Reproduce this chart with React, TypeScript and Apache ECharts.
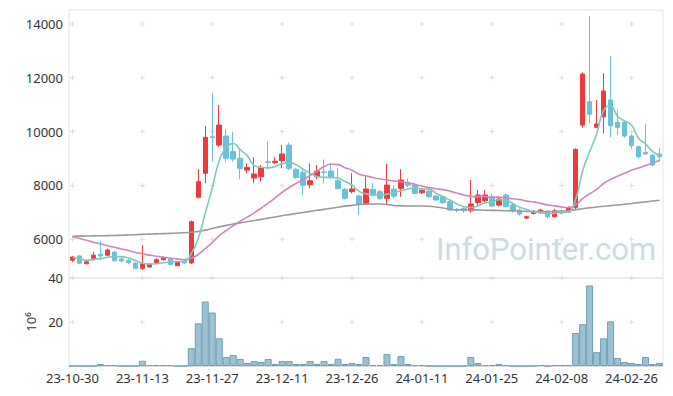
import React, { useEffect, useRef } from 'react';
import * as echarts from 'echarts';

const dates = [
  '23-10-30', '23-10-31', '23-11-01', '23-11-02', '23-11-03',
  '23-11-06', '23-11-07', '23-11-08', '23-11-09', '23-11-10',
  '23-11-13', '23-11-14', '23-11-15', '23-11-16', '23-11-17',
  '23-11-20', '23-11-21', '23-11-22', '23-11-23', '23-11-24',
  '23-11-27', '23-11-28', '23-11-29', '23-11-30', '23-12-01',
  '23-12-04', '23-12-05', '23-12-06', '23-12-07', '23-12-08',
  '23-12-11', '23-12-12', '23-12-13', '23-12-14', '23-12-15',
  '23-12-18', '23-12-19', '23-12-20', '23-12-21', '23-12-22',
  '23-12-26', '23-12-27', '23-12-28',
  '24-01-02', '24-01-03', '24-01-04', '24-01-05',
  '24-01-08', '24-01-09', '24-01-10', '24-01-11', '24-01-12',
  '24-01-15', '24-01-16', '24-01-17', '24-01-18', '24-01-19',
  '24-01-22', '24-01-23', '24-01-24', '24-01-25', '24-01-26',
  '24-01-29', '24-01-30', '24-01-31', '24-02-01', '24-02-02',
  '24-02-05', '24-02-06', '24-02-07', '24-02-08',
  '24-02-13', '24-02-14', '24-02-15', '24-02-16',
  '24-02-19', '24-02-20', '24-02-21', '24-02-22', '24-02-23',
  '24-02-26', '24-02-27', '24-02-28', '24-02-29',
  '24-03-04',
];

const opens = [5220,5380,5090,5290,5440,5410,5520,5265,5215,5115,4920,4970,5130,5240,5265,5015,5190,5120,7560,8450,9810,9500,9835,9255,9010,8570,8275,8325,8880,8850,8920,9500,8600,8475,8025,8325,8500,8535,8175,7855,7770,7605,7335,7855,7770,7520,7860,7890,8080,8015,7730,7790,7605,7580,7395,7110,7135,7060,7360,7430,7580,7270,7645,7270,7085,6790,6960,7010,7025,6840,7020,7010,7185,10245,11110,10160,10555,11175,10345,10345,9835,9440,9230,9120,9170];
const closes = [5340,5110,5165,5410,5380,5600,5200,5190,5140,4920,5090,5070,5240,5315,5070,5165,5120,6650,8140,9790,9780,10245,9010,8980,8635,8670,8425,8670,8860,8900,9170,8635,8300,8005,8175,8535,8480,8300,7890,7520,7870,7310,7870,7645,7520,8015,7600,8200,8010,7705,7820,7580,7460,7355,7085,7080,7060,7310,7645,7645,7235,7495,7210,7060,6935,6840,7035,7085,6840,7060,6970,7170,9340,12140,10645,10285,11510,10220,10160,9835,9475,9070,9170,8760,9070];
const lows = [5150,5080,5070,5200,5230,5380,5170,5150,5080,4880,4860,4950,5090,5200,5030,5000,5090,5080,7520,8080,8880,9440,8880,8880,8230,8450,8080,8140,8600,8800,8635,8570,8250,7650,7890,8230,8080,8230,7850,7480,7700,6900,7310,7600,7450,7270,7520,7580,7930,7680,7680,7540,7420,7320,7050,7000,6990,6990,7235,7380,7200,7220,7180,6990,6880,6760,6920,6940,6760,6810,6920,6990,7080,10150,10310,10125,9935,9790,9875,9770,9360,8990,9150,8720,8880];
const highs = [5380,5420,5190,5540,5950,5650,5560,5320,5260,5140,5780,5100,5290,5360,5300,5180,5230,6700,8600,10210,11430,10990,10085,10000,9380,8820,9045,8760,9625,9050,9500,9590,8640,8570,8820,8760,8970,8845,8650,7900,8450,7650,8385,8100,7830,8795,8000,8600,8265,8100,7900,7830,7650,7620,7430,7160,7200,8200,7830,7830,7700,7580,7700,7310,7140,6880,7090,7130,7090,7130,7100,7230,9380,12200,14300,11175,12170,12810,10800,10420,9910,9480,10270,9170,9380];

const ma5 = [5330,5280,5220,5250,5281,5333,5351,5356,5302,5210,5108,5082,5092,5127,5157,5172,5182,5464,6029,6973,7896,8921,9393,9561,9330,9108,8744,8676,8652,8705,8805,8847,8773,8602,8457,8330,8299,8299,8276,8145,8012,7778,7692,7643,7643,7672,7730,7796,7869,7906,7867,7863,7715,7584,7460,7312,7208,7178,7236,7348,7379,7466,7446,7329,7187,7108,7016,6991,6947,6972,6998,7025,7476,8536,9253,9916,10784,10960,10564,10402,10240,9752,9542,9262,9109];
const ma20 = [6095,6030,5960,5890,5830,5760,5700,5640,5580,5510,5460,5410,5370,5330,5300,5270,5250,5290,5440,5655,5877,6134,6326,6505,6668,6821,6982,7156,7342,7541,7745,7924,8077,8211,8366,8535,8703,8785,8773,8659,8564,8417,8360,8293,8238,8205,8164,8140,8098,8038,7970,7918,7876,7843,7789,7716,7645,7595,7583,7589,7558,7567,7534,7505,7475,7417,7388,7333,7274,7242,7199,7179,7273,7512,7690,7850,8073,8218,8344,8454,8566,8644,8742,8827,8934];
const ma120 = [6110,6115,6120,6125,6130,6135,6140,6150,6160,6170,6180,6190,6200,6210,6220,6230,6240,6260,6290,6340,6400,6460,6515,6565,6610,6650,6695,6740,6785,6830,6875,6915,6955,6995,7035,7075,7110,7150,7190,7230,7260,7290,7305,7310,7310,7290,7255,7240,7235,7235,7235,7225,7200,7160,7120,7095,7100,7095,7090,7080,7075,7070,7060,7055,7045,7035,7030,7025,7025,7035,7045,7060,7100,7135,7170,7200,7225,7250,7275,7300,7330,7360,7390,7420,7450];

const volumes = [0,0,0,0,0.9,0.45,0.45,0,0,0,2.4,0.45,0.45,0.45,0.45,0,0,8.1,19.4,29.3,24.3,12.6,4.1,5.0,3.2,1.35,2.25,1.8,3.2,0.9,2.25,2.25,0.9,0.9,2.25,0.9,2.25,0.9,3.3,0.9,1.35,0.9,4.1,0.45,0.45,5.4,0.9,4.5,0.9,0.45,0.45,0,0,0,0,0,0,4.1,1.35,0.45,0.45,0.9,0.45,0,0,0,0,0.45,0,0.45,0.45,0.45,15.0,19.0,36.6,6.3,12.6,20.3,3.6,1.8,1.35,0.9,4.1,0.9,1.35];

const priceTicks = [6000, 8000, 10000, 12000, 14000];
const volumeTicks = [20, 40];
const labelStep = 10;

const FONT = 'Noto Sans';
const UP = '#ee3a3f';
const DOWN = '#6bc0da';
const PLUS = 'path://M2,0H3V2H5V3H3V5H2V3H0V2H2Z';

export default function App() {
  const ref = useRef<HTMLDivElement>(null);
  useEffect(() => {
    document.body.style.margin = '0';
    const chart = echarts.init(ref.current!, null, { renderer: 'svg' });
    const tickIdx = dates.map((_, i) => i).filter((i) => i % labelStep === 0);
    const crossMain: number[][] = [];
    tickIdx.forEach((i) => priceTicks.forEach((v) => crossMain.push([i, v])));
    const crossVol: number[][] = [];
    tickIdx.forEach((i) => volumeTicks.forEach((v) => crossVol.push([i, v])));
    const labelStyle = { color: '#333', fontSize: 13, fontFamily: FONT };

    chart.setOption({
      animation: false,
      backgroundColor: '#fff',
      grid: [
        { left: 69, right: 10, top: 10, height: 268, show: true, borderColor: '#e3e3e3', borderWidth: 1 },
        { left: 69, right: 10, top: 278, height: 88, show: true, borderColor: '#e3e3e3', borderWidth: 1 },
      ],
      xAxis: [
        {
          type: 'category', gridIndex: 0, data: dates, boundaryGap: true,
          axisLine: { show: false }, axisTick: { show: false }, axisLabel: { show: false }, splitLine: { show: false },
        },
        {
          type: 'category', gridIndex: 1, data: dates, boundaryGap: true,
          axisLine: { show: true, lineStyle: { color: '#ddd' } }, axisTick: { show: false },
          axisLabel: { ...labelStyle, interval: labelStep - 1, margin: 5 }, splitLine: { show: false },
        },
      ],
      yAxis: [
        {
          type: 'value', gridIndex: 0, min: 4560, max: 14520,
          axisLine: { show: false }, axisTick: { show: false }, splitLine: { show: false },
          axisLabel: { ...labelStyle, margin: 6, showMinLabel: false, showMaxLabel: false, formatter: (v: number) => String(v) },
        },
        {
          type: 'value', gridIndex: 1, min: 0, max: 40, interval: 20,
          name: '10⁶', nameLocation: 'middle', nameGap: 30, nameRotate: 90,
          nameTextStyle: { color: '#333', fontSize: 13, fontFamily: FONT },
          axisLine: { show: false }, axisTick: { show: false }, splitLine: { show: false },
          axisLabel: { ...labelStyle, margin: 6, showMinLabel: false, formatter: (v: number) => String(v) },
        },
      ],
      graphic: [
        {
          type: 'text', left: 436, top: 234, z: 0, silent: true,
          style: { text: 'InfoPointer.com', fontSize: 31, fontFamily: 'Roboto', fill: '#cadce6' },
        },
      ],
      series: [
        {
          type: 'scatter', xAxisIndex: 0, yAxisIndex: 0, data: crossMain, symbol: PLUS, symbolSize: 5,
          itemStyle: { color: '#d2d2d2' }, silent: true, z: 1,
        },
        {
          type: 'scatter', xAxisIndex: 1, yAxisIndex: 1, data: crossVol, symbol: PLUS, symbolSize: 5,
          itemStyle: { color: '#d2d2d2' }, silent: true, z: 1,
        },
        {
          type: 'candlestick', xAxisIndex: 0, yAxisIndex: 0, barWidth: 5,
          data: dates.map((_, i) => [opens[i], closes[i], lows[i], highs[i]]),
          itemStyle: { color: UP, color0: DOWN, borderColor: UP, borderColor0: DOWN, borderWidth: 1 },
          z: 3,
        },
        {
          type: 'line', xAxisIndex: 0, yAxisIndex: 0, data: ma120, showSymbol: false, smooth: true,
          lineStyle: { color: '#9a9a9a', width: 1.6 }, z: 4,
        },
        {
          type: 'line', xAxisIndex: 0, yAxisIndex: 0, data: ma20, showSymbol: false, smooth: true,
          lineStyle: { color: '#cc88c0', width: 1.6 }, z: 4,
        },
        {
          type: 'line', xAxisIndex: 0, yAxisIndex: 0, data: ma5, showSymbol: false, smooth: true,
          lineStyle: { color: '#7fc9bd', width: 1.6 }, z: 4,
        },
        {
          type: 'bar', xAxisIndex: 1, yAxisIndex: 1, data: volumes, barCategoryGap: '0%',
          itemStyle: { color: '#9bc2d3', borderColor: '#6e9fb5', borderWidth: 1 }, z: 2,
        },
      ],
    });
    return () => chart.dispose();
  }, []);
  return <div ref={ref} style={{ width: 673, height: 396 }} />;
}
